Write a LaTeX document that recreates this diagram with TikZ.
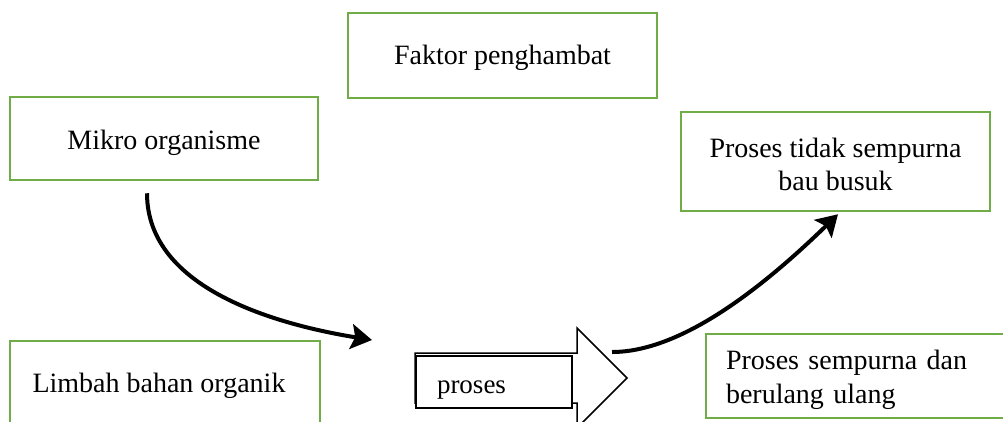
\documentclass[tikz,border=0pt]{standalone}
\usepackage{fontspec}
\setmainfont{Liberation Serif}
\usetikzlibrary{arrows.meta,calc}
\definecolor{boxgreen}{RGB}{112,173,71}
% invisible strut that lowers the first line of a node
\newcommand\firstline[1]{\rule{0pt}{#1}}
\begin{document}
\begin{tikzpicture}[x=1pt,y=-1pt,
  gbox/.style={draw=boxgreen, line width=2.5pt, fill=white, inner sep=0pt,
    font=\fontsize{28}{33.5}\selectfont, align=center},
  flow/.style={line width=4pt, -{Stealth[length=21pt,width=25pt,inset=4pt]}},
  blockarrow/.style={draw=black, line width=1.5pt, fill=white, line join=miter},
  procbox/.style={draw=black, line width=1.2pt, fill=white, inner sep=0pt,
    font=\fontsize{27}{32}\selectfont, align=left},
]
\useasboundingbox (0,0) rectangle (1003,421);
\clip (0,0) rectangle (1003,421);

% green boxes
\node[gbox, minimum width=309pt, minimum height=85pt] (faktor) at (502.5,55.5)
  {\firstline{25pt}Faktor penghambat};
\node[gbox, minimum width=308pt, minimum height=83pt] (mikro) at (164,138.5)
  {\firstline{29pt}Mikro organisme};
\node[gbox, minimum width=309pt, minimum height=99pt] (busuk) at (835.5,161.5)
  {\firstline{25pt}Proses tidak sempurna\\bau busuk};
\node[gbox, minimum width=310pt, minimum height=89pt] (limbah) at (165,385.5)
  {\firstline{21pt}\hspace*{-12pt}Limbah bahan organik};
\node[gbox, minimum width=309pt, minimum height=84pt, text width=269pt, align=left] (ulang) at (860.5,376)
  {\firstline{27pt}Proses sempurna dan\\berulang ulang};

% block arrow with the process label on top
\draw[blockarrow] (415,353) -- (577,353) -- (577,328) -- (627,378) coordinate (tip)
  -- (577,428) -- (577,403) -- (415,403) -- cycle;
\node[procbox, minimum width=156pt, minimum height=52pt, text width=114pt] (proses) at (494,382)
  {\firstline{28pt}proses};

% curved connectors
\coordinate (m0) at ($(mikro.south)+(-17,12)$);
\coordinate (m1) at (372,340);
\draw[flow] (m0) .. controls (147,290) and (280,325) .. (m1);

\coordinate (p0) at ($(tip)+(-15,-26)$);
\coordinate (p1) at ($(busuk.south)+(2.5,2)$);
\draw[flow] (p0) .. controls (680,352) and (760,290) .. (p1);
\end{tikzpicture}
\end{document}
